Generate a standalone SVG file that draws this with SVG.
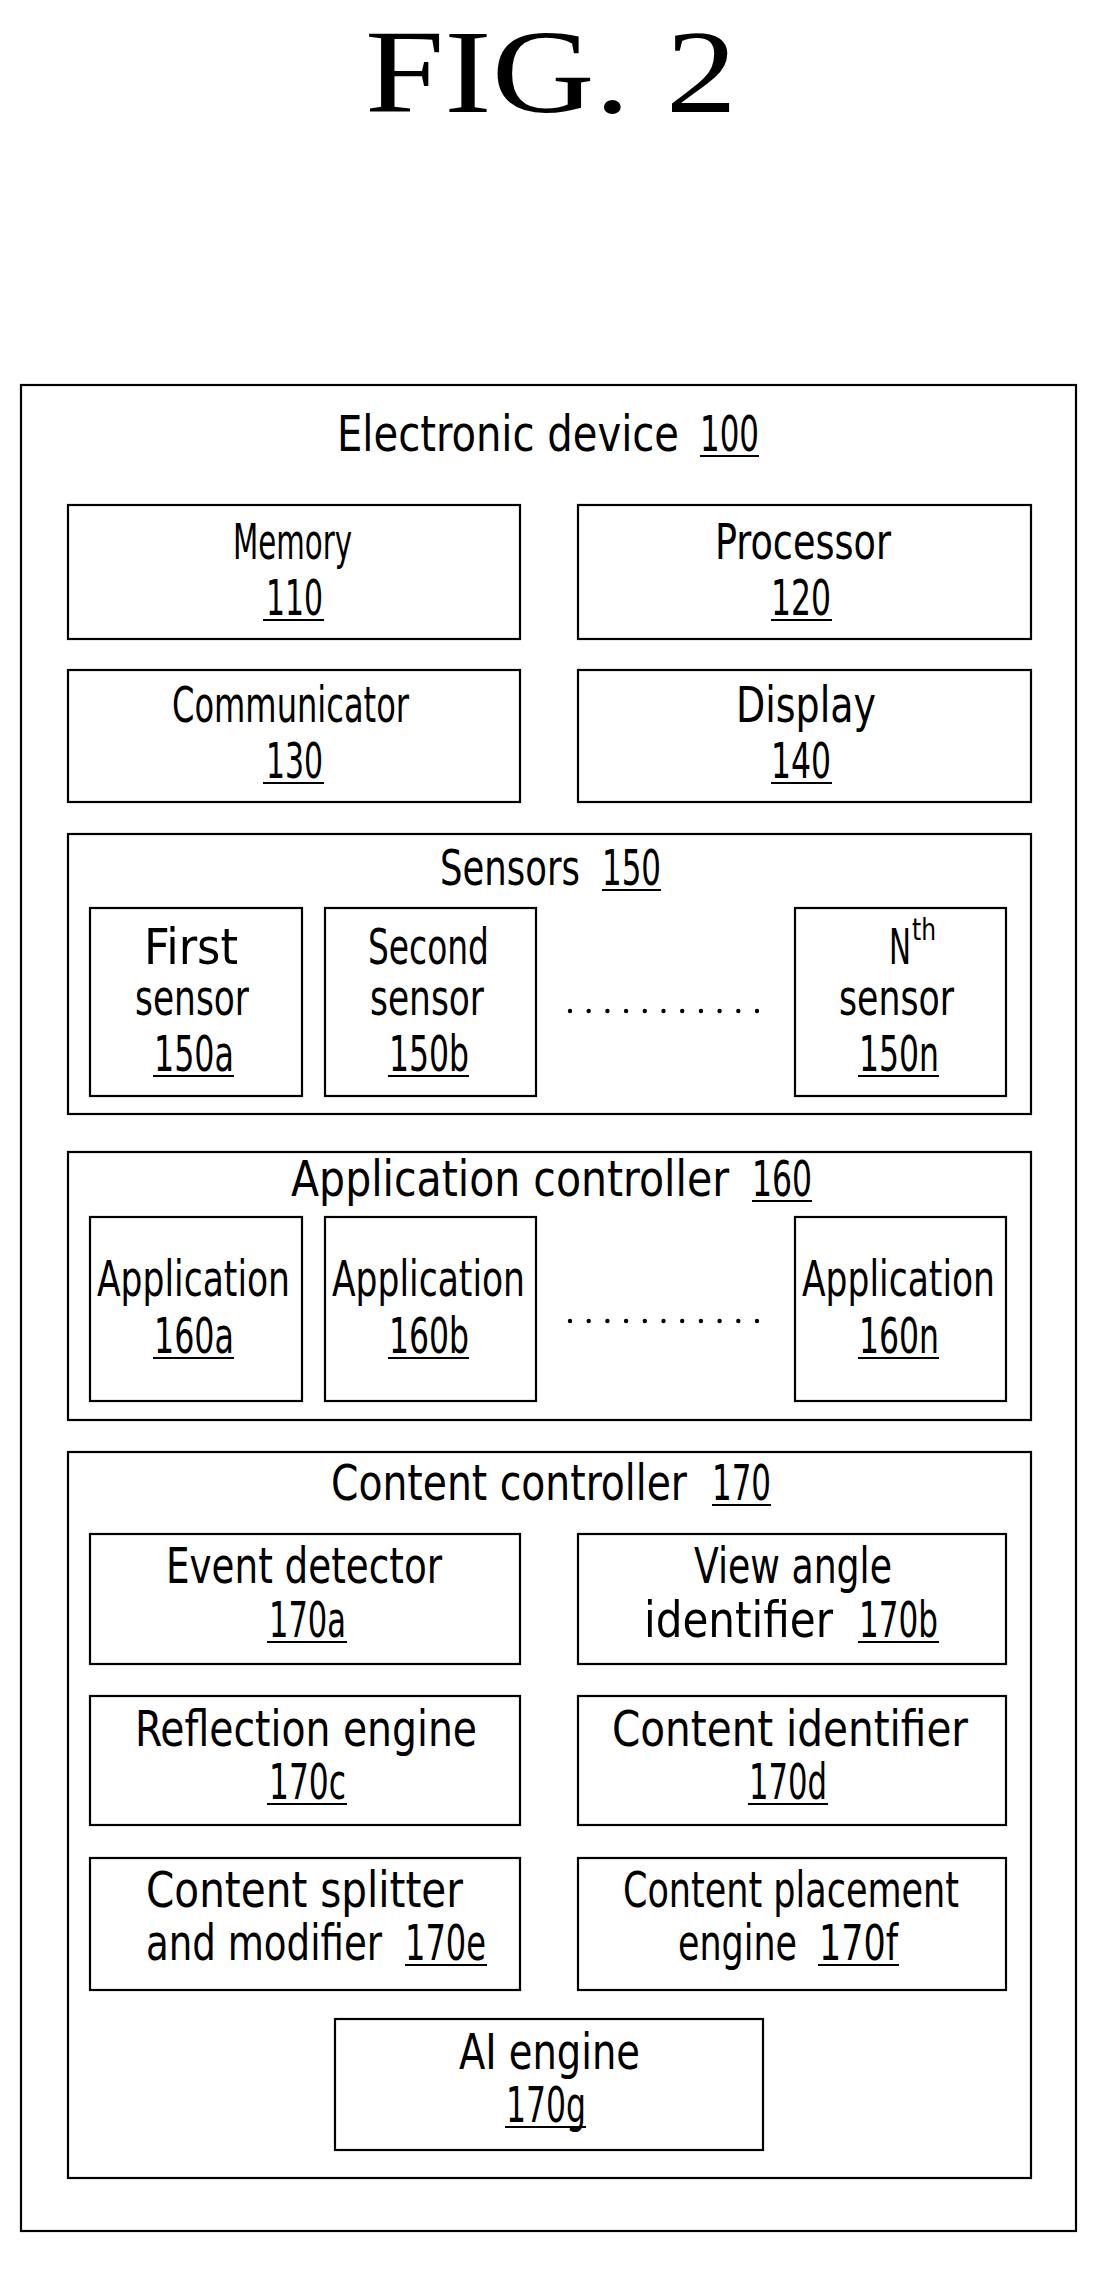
<svg xmlns="http://www.w3.org/2000/svg" width="1094" height="2271" viewBox="0 0 1094 2271">
<style>
rect{fill:none;stroke:#000;stroke-width:2.2}
text{font-family:"DejaVu Sans Condensed","Liberation Sans",Arial,sans-serif;font-size:50px;fill:#000}
.u{stroke:#000;stroke-width:2}
.d{fill:#000}
</style>
<rect x="0" y="0" width="1094" height="2271" style="fill:#fff;stroke:none"/>
<text x="551" y="112" text-anchor="middle" style="font-family:'Liberation Serif','Times New Roman',serif;font-size:118px" textLength="372" lengthAdjust="spacingAndGlyphs">FIG. 2</text>
<g id="n100">
<rect x="21" y="385" width="1055" height="1846"/>
<text x="337" y="451" textLength="342" lengthAdjust="spacingAndGlyphs">Electronic device</text>
<text x="700" y="451" textLength="59" lengthAdjust="spacingAndGlyphs">100</text><line class="u" x1="700" y1="456" x2="759" y2="456"/>
</g>
<g id="n110">
<rect x="68" y="505" width="452" height="134"/>
<text x="233" y="559" textLength="119" lengthAdjust="spacingAndGlyphs">Memory</text>
<text x="266" y="615" textLength="57" lengthAdjust="spacingAndGlyphs">110</text><line class="u" x1="263" y1="620" x2="324" y2="620"/>
</g>
<g id="n120">
<rect x="578" y="505" width="453" height="134"/>
<text x="715" y="559" textLength="176" lengthAdjust="spacingAndGlyphs">Processor</text>
<text x="771" y="615" textLength="60" lengthAdjust="spacingAndGlyphs">120</text><line class="u" x1="771" y1="620" x2="832" y2="620"/>
</g>
<g id="n130">
<rect x="68" y="670" width="452" height="132"/>
<text x="172" y="722" textLength="237" lengthAdjust="spacingAndGlyphs">Communicator</text>
<text x="266" y="778" textLength="57" lengthAdjust="spacingAndGlyphs">130</text><line class="u" x1="263" y1="783" x2="324" y2="783"/>
</g>
<g id="n140">
<rect x="578" y="670" width="453" height="132"/>
<text x="736" y="722" textLength="140" lengthAdjust="spacingAndGlyphs">Display</text>
<text x="771" y="778" textLength="60" lengthAdjust="spacingAndGlyphs">140</text><line class="u" x1="771" y1="783" x2="832" y2="783"/>
</g>
<g id="n150">
<rect x="68" y="834" width="963" height="280"/>
<text x="440" y="885" textLength="140" lengthAdjust="spacingAndGlyphs">Sensors</text>
<text x="602" y="885" textLength="59" lengthAdjust="spacingAndGlyphs">150</text><line class="u" x1="602" y1="890" x2="661" y2="890"/>
</g>
<g id="n150a">
<rect x="90" y="908" width="212" height="188"/>
<text x="144" y="964" textLength="94" lengthAdjust="spacingAndGlyphs">First</text>
<text x="135" y="1015" textLength="114" lengthAdjust="spacingAndGlyphs">sensor</text>
<text x="154" y="1071" textLength="80" lengthAdjust="spacingAndGlyphs">150a</text><line class="u" x1="153" y1="1076" x2="234" y2="1076"/>
</g>
<g id="n150b">
<rect x="325" y="908" width="211" height="188"/>
<text x="368" y="964" textLength="121" lengthAdjust="spacingAndGlyphs">Second</text>
<text x="370" y="1015" textLength="114" lengthAdjust="spacingAndGlyphs">sensor</text>
<text x="389" y="1071" textLength="80" lengthAdjust="spacingAndGlyphs">150b</text><line class="u" x1="388" y1="1076" x2="469" y2="1076"/>
</g>
<g id="n150n">
<rect x="795" y="908" width="211" height="188"/>
<text x="889" y="964" textLength="22" lengthAdjust="spacingAndGlyphs">N</text>
<text x="912" y="940" style="font-size:30px" textLength="24" lengthAdjust="spacingAndGlyphs">th</text>
<text x="839" y="1015" textLength="115" lengthAdjust="spacingAndGlyphs">sensor</text>
<text x="859" y="1071" textLength="80" lengthAdjust="spacingAndGlyphs">150n</text><line class="u" x1="858" y1="1076" x2="939" y2="1076"/>
</g>
<g id="dots1" class="d">
<circle cx="570" cy="1011" r="2.2"/><circle cx="588.7" cy="1011" r="2.2"/><circle cx="607.4" cy="1011" r="2.2"/><circle cx="626.1" cy="1011" r="2.2"/><circle cx="644.8" cy="1011" r="2.2"/><circle cx="663.5" cy="1011" r="2.2"/><circle cx="682.2" cy="1011" r="2.2"/><circle cx="700.9" cy="1011" r="2.2"/><circle cx="719.6" cy="1011" r="2.2"/><circle cx="738.3" cy="1011" r="2.2"/><circle cx="757" cy="1011" r="2.2"/>
</g>
<g id="n160">
<rect x="68" y="1152" width="963" height="268"/>
<text x="291" y="1196" textLength="438" lengthAdjust="spacingAndGlyphs">Application controller</text>
<text x="752" y="1196" textLength="60" lengthAdjust="spacingAndGlyphs">160</text><line class="u" x1="752" y1="1201" x2="812" y2="1201"/>
</g>
<g id="n160a">
<rect x="90" y="1217" width="212" height="184"/>
<text x="97" y="1296" textLength="193" lengthAdjust="spacingAndGlyphs">Application</text>
<text x="154" y="1353" textLength="80" lengthAdjust="spacingAndGlyphs">160a</text><line class="u" x1="153" y1="1358" x2="234" y2="1358"/>
</g>
<g id="n160b">
<rect x="325" y="1217" width="211" height="184"/>
<text x="332" y="1296" textLength="193" lengthAdjust="spacingAndGlyphs">Application</text>
<text x="389" y="1353" textLength="80" lengthAdjust="spacingAndGlyphs">160b</text><line class="u" x1="388" y1="1358" x2="469" y2="1358"/>
</g>
<g id="n160n">
<rect x="795" y="1217" width="211" height="184"/>
<text x="802" y="1296" textLength="193" lengthAdjust="spacingAndGlyphs">Application</text>
<text x="859" y="1353" textLength="80" lengthAdjust="spacingAndGlyphs">160n</text><line class="u" x1="858" y1="1358" x2="939" y2="1358"/>
</g>
<g id="dots2" class="d">
<circle cx="570" cy="1321" r="2.2"/><circle cx="588.7" cy="1321" r="2.2"/><circle cx="607.4" cy="1321" r="2.2"/><circle cx="626.1" cy="1321" r="2.2"/><circle cx="644.8" cy="1321" r="2.2"/><circle cx="663.5" cy="1321" r="2.2"/><circle cx="682.2" cy="1321" r="2.2"/><circle cx="700.9" cy="1321" r="2.2"/><circle cx="719.6" cy="1321" r="2.2"/><circle cx="738.3" cy="1321" r="2.2"/><circle cx="757" cy="1321" r="2.2"/>
</g>
<g id="n170">
<rect x="68" y="1452" width="963" height="726"/>
<text x="331" y="1500" textLength="356" lengthAdjust="spacingAndGlyphs">Content controller</text>
<text x="712" y="1500" textLength="59" lengthAdjust="spacingAndGlyphs">170</text><line class="u" x1="712" y1="1505" x2="771" y2="1505"/>
</g>
<g id="n170a">
<rect x="90" y="1534" width="430" height="130"/>
<text x="166" y="1583" textLength="276" lengthAdjust="spacingAndGlyphs">Event detector</text>
<text x="269" y="1637" textLength="77" lengthAdjust="spacingAndGlyphs">170a</text><line class="u" x1="267" y1="1642" x2="347" y2="1642"/>
</g>
<g id="n170b">
<rect x="578" y="1534" width="428" height="130"/>
<text x="694" y="1583" textLength="198" lengthAdjust="spacingAndGlyphs">View angle</text>
<text x="644" y="1637" textLength="189" lengthAdjust="spacingAndGlyphs">identifier</text>
<text x="859" y="1637" textLength="79" lengthAdjust="spacingAndGlyphs">170b</text><line class="u" x1="858" y1="1642" x2="939" y2="1642"/>
</g>
<g id="n170c">
<rect x="90" y="1696" width="430" height="129"/>
<text x="135" y="1746" textLength="342" lengthAdjust="spacingAndGlyphs">Reflection engine</text>
<text x="269" y="1799" textLength="77" lengthAdjust="spacingAndGlyphs">170c</text><line class="u" x1="267" y1="1804" x2="347" y2="1804"/>
</g>
<g id="n170d">
<rect x="578" y="1696" width="428" height="129"/>
<text x="612" y="1746" textLength="356" lengthAdjust="spacingAndGlyphs">Content identifier</text>
<text x="749" y="1799" textLength="78" lengthAdjust="spacingAndGlyphs">170d</text><line class="u" x1="748" y1="1804" x2="828" y2="1804"/>
</g>
<g id="n170e">
<rect x="90" y="1858" width="430" height="132"/>
<text x="146" y="1907" textLength="317" lengthAdjust="spacingAndGlyphs">Content splitter</text>
<text x="146" y="1960" textLength="236" lengthAdjust="spacingAndGlyphs">and modifier</text>
<text x="405" y="1960" textLength="81" lengthAdjust="spacingAndGlyphs">170e</text><line class="u" x1="405" y1="1965" x2="487" y2="1965"/>
</g>
<g id="n170f">
<rect x="578" y="1858" width="428" height="132"/>
<text x="623" y="1907" textLength="336" lengthAdjust="spacingAndGlyphs">Content placement</text>
<text x="678" y="1960" textLength="119" lengthAdjust="spacingAndGlyphs">engine</text>
<text x="819" y="1960" textLength="79" lengthAdjust="spacingAndGlyphs">170f</text><line class="u" x1="818" y1="1965" x2="899" y2="1965"/>
</g>
<g id="n170g">
<rect x="335" y="2019" width="428" height="131"/>
<text x="459" y="2069" textLength="181" lengthAdjust="spacingAndGlyphs">AI engine</text>
<text x="506" y="2122" textLength="80" lengthAdjust="spacingAndGlyphs">170g</text><line class="u" x1="505" y1="2127" x2="586" y2="2127"/>
</g>
<g id="connectors"></g>
</svg>
